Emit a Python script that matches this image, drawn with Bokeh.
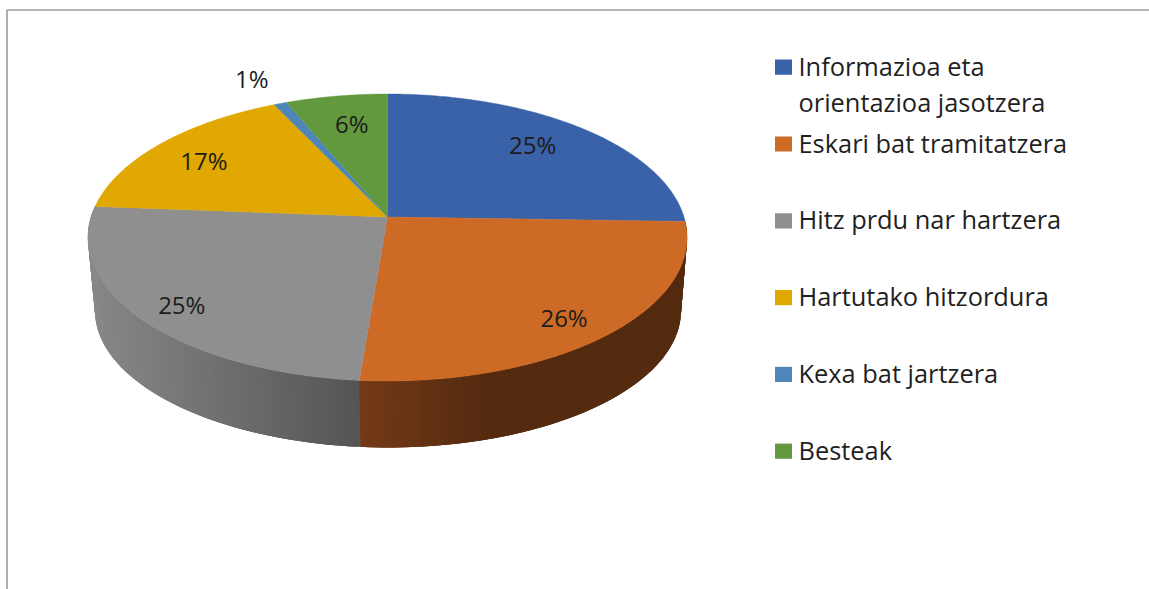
import numpy as np
from bokeh.plotting import figure
from bokeh.models import Range1d
from bokeh.core.properties import value
from bokeh.embed import file_html
from bokeh.resources import INLINE

categories = ["Informazioa eta\norientazioa jasotzera", "Eskari bat tramitatzera", "Hitz prdu nar hartzera",
              "Hartutako hitzordura", "Kexa bat jartzera", "Besteak"]
values = [25.5, 25.8, 24.9, 16.7, 0.8, 6.3]
labels = ["25%", "26%", "25%", "17%", "1%", "6%"]
colors = ["#3a62a9", "#cd6b26", "#8f8f8f", "#e0a800", "#4e86b8", "#62993e"]

W, H = 1149, 589
FONT = "Open Sans"
K = 1 / 7
CX, CY, A, B = 387.0, 216.5, 296.5, 140.6      # top face
LCX, LCY, LA, LB = 387.5, 290.4, 290.0, 134.2  # bottom rim


def project(r, theta, cx, cy, a, b):
    u, v = r * np.sin(theta), r * np.cos(theta)
    d = 1 + K * v
    return cx + a * u / d, cy - b * v / d


p = figure(width=W, height=H, output_backend="svg", toolbar_location=None,
           x_range=Range1d(0, W), y_range=Range1d(H, 0), min_border=0,
           outline_line_color=None, background_fill_color="white")
p.xaxis.visible = False
p.yaxis.visible = False
p.grid.visible = False

# chart frame
p.segment([6.5, 6.5], [9.5, 9.5], [W, 6.5], [9.5, H], line_color="#9a9a9a", line_width=1.6)

fractions = np.array(values) / sum(values)
edges = np.concatenate([[0], np.cumsum(fractions)]) * 2 * np.pi


def side_colour(i, x):
    if i == 1:
        t = (116, 58, 23), (85, 43, 16)
        xs = (358, 480)
    else:
        t = (136, 136, 136), (85, 85, 85)
        xs = (90, 358)
    rgb = [int(round(np.interp(x, xs, (t[0][c], t[1][c])))) for c in range(3)]
    return "#%02x%02x%02x" % tuple(rgb)


# extruded side of the two front slices: each band overlaps the next so no seams show
qx, qy, qc = [], [], []
for i in (2, 1):
    th = np.linspace(edges[i], edges[i + 1], 200)
    if i == 1:
        th = th[::-1]
    for n in range(len(th) - 1):
        a1 = th[min(n + 3, len(th) - 1)]
        a0 = th[n] - (0.012 if (i == 2 and n == 0) else 0)
        x0, y0 = project(1, a0, CX, CY, A, B)
        x1, y1 = project(1, a1, CX, CY, A, B)
        x2, y2 = project(1, a1, LCX, LCY, LA, LB)
        x3, y3 = project(1, a0, LCX, LCY, LA, LB)
        qx.append([x0, x1, x2, x3])
        qy.append([y0, y1, y2, y3])
        qc.append(side_colour(i, x0))
p.patches(qx, qy, fill_color=qc, line_color=None)

# top face
for i, c in enumerate(colors):
    th = np.linspace(edges[i], edges[i + 1], 160)
    x, y = project(1, th, CX, CY, A, B)
    p.patch(np.r_[CX, x], np.r_[CY, y], fill_color=c, line_color=c, line_width=0.4)

# data labels placed along each slice's middle direction, with small nudges
radial = [0.753, 0.85, 0.86, 0.775, 1.245, 0.73]
nudge_x = [-4, -8, 5, -5, -6, 3]
nudge_y = [-4, 2, 2, 1, -1, -2]
mids = (edges[:-1] + edges[1:]) / 2
lx, ly = project(np.array(radial), mids, CX, CY, A, B)
p.text(lx + np.array(nudge_x), ly + np.array(nudge_y), text=labels, text_font=value(FONT),
       text_font_size="24px", text_color="#1c1c1c", text_align="center", text_baseline="middle")

# legend
LEG_Y0, LEG_STEP = 66.7, 76.8
for i, (name, c) in enumerate(zip(categories, colors)):
    yc = LEG_Y0 + i * LEG_STEP
    p.quad(left=[774.5], right=[791.5], top=[yc - 7.6], bottom=[yc + 7.6], fill_color=c, line_color=None)
    parts = name.split("\n")
    for j, part in enumerate(parts):
        p.text([798], [yc - 1.5 + j * 36.5], text=[part], text_font=value(FONT), text_font_size="25.4px",
               text_color="#1f1f1f", text_align="left", text_baseline="middle")

open("out.html", "w").write(file_html(p, INLINE))
